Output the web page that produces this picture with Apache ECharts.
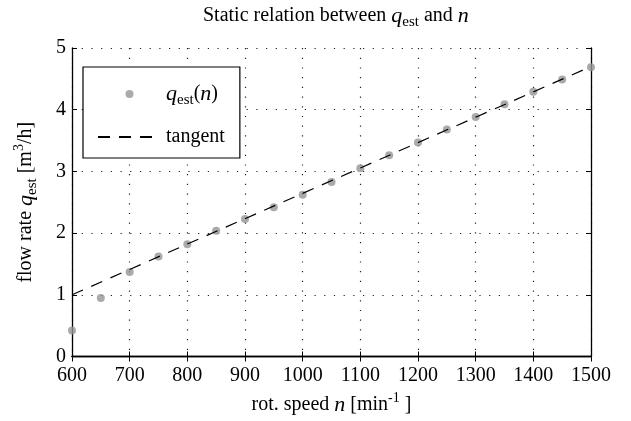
<!DOCTYPE html>
<html>
<head>
<meta charset="utf-8">
<script src="https://cdn.jsdelivr.net/npm/echarts@6.0.0/dist/echarts.min.js"></script>
<style>
  html, body { margin: 0; padding: 0; background: #fff; }
  #chart { width: 631px; height: 421px; }
</style>
</head>
<body>
<div id="chart"></div>
<script>
// data
const rpm = [600, 650, 700, 750, 800, 850, 900, 950, 1000, 1050, 1100, 1150, 1200, 1250, 1300, 1350, 1400, 1450, 1500];
const qEst = [0.42, 0.95, 1.37, 1.62, 1.82, 2.04, 2.23, 2.42, 2.62, 2.83, 3.05, 3.26, 3.47, 3.68, 3.88, 4.09, 4.29, 4.49, 4.69];
const tangentN = [600, 1500];
const tangentQ = [1.0, 4.7];

const FONT = "Liberation Serif";
const base = { fontFamily: FONT, color: "#000", fontWeight: "normal" };

// rich text styles for sub/superscripts
const richStyles = (size) => ({
    a: { ...base, fontSize: size },
    i: { ...base, fontSize: size + 2, fontStyle: "italic" },
    s: { ...base, fontSize: size - 5, padding: [13, 0, 0, 0] },
    p: { ...base, fontSize: size - 6, padding: [0, 0, 13, 0] },
});

const chart = echarts.init(document.getElementById("chart"));

const axisCommon = {
    axisLine: { lineStyle: { color: "#000", width: 1.3 } },
    axisTick: { inside: true, length: 5, lineStyle: { color: "#000", width: 1 } },
};
const dotted = { show: true, lineStyle: { color: "#222", width: 1.2, type: [1.2, 8.5] } };

const option = {
    animation: false,
    backgroundColor: "#fff",
    title: {
        text: "{a|Static relation between }{i|q}{s|est}{a| and }{i|n}",
        left: 198,
        top: -3,
        textStyle: { ...base, fontSize: 20, rich: richStyles(20) },
    },
    grid: { left: 72, right: 40, top: 48, bottom: 64 },
    legend: {
        orient: "vertical",
        left: 83,
        top: 67,
        padding: [16, 15, 11, 14],
        itemGap: 19,
        itemWidth: 63,
        itemHeight: 8,
        backgroundColor: "#fff",
        borderColor: "#000",
        borderWidth: 1.2,
        borderRadius: 0,
        textStyle: { ...base, fontSize: 20, rich: richStyles(20) },
        formatter: (name) => (name === "qest" ? "{i|q}{s|est}{a|(}{i|n}{a|)}" : "{a|tangent}"),
        data: [
            { name: "qest", icon: "circle" },
            { name: "tangent", itemStyle: { opacity: 0 } },
        ],
    },
    xAxis: [
        {
            ...axisCommon,
            type: "value",
            min: 600,
            max: 1500,
            interval: 100,
            name: "{a|rot. speed }{i|n}{a| [min}{p|-1}{a| ]}",
            nameLocation: "middle",
            nameGap: 35,
            nameTextStyle: { ...base, fontSize: 20, rich: richStyles(20) },
            axisLabel: { ...base, fontSize: 20, margin: 9, formatter: (v) => String(v) },
            splitLine: dotted,
        },
        {
            ...axisCommon,
            type: "value",
            position: "top",
            min: 600,
            max: 1500,
            interval: 100,
            axisLabel: { show: false },
            splitLine: { show: false },
        },
    ],
    yAxis: [
        {
            ...axisCommon,
            type: "value",
            min: 0,
            max: 5,
            interval: 1,
            name: "{a|flow rate }{i|q}{s|est}{a| [m}{p|3}{a|/h]}",
            nameLocation: "middle",
            nameGap: 32,
            nameTextStyle: { ...base, fontSize: 20, rich: richStyles(20) },
            axisLabel: { ...base, fontSize: 20, margin: 6 },
            splitLine: dotted,
        },
        {
            ...axisCommon,
            type: "value",
            position: "right",
            min: 0,
            max: 5,
            interval: 1,
            axisLabel: { show: false },
            splitLine: { show: false },
        },
    ],
    series: [
        {
            name: "qest",
            type: "scatter",
            symbol: "circle",
            symbolSize: 8,
            itemStyle: { color: "#959595" },
            data: rpm.map((n, i) => [n, qEst[i]]),
            z: 3,
        },
        {
            name: "tangent",
            type: "line",
            symbol: "none",
            lineStyle: { color: "#000", width: 1.2, type: [12, 9] },
            itemStyle: { color: "#000" },
            data: tangentN.map((n, i) => [n, tangentQ[i]]),
            z: 4,
        },
    ],
};

chart.setOption(option);
</script>
</body>
</html>
